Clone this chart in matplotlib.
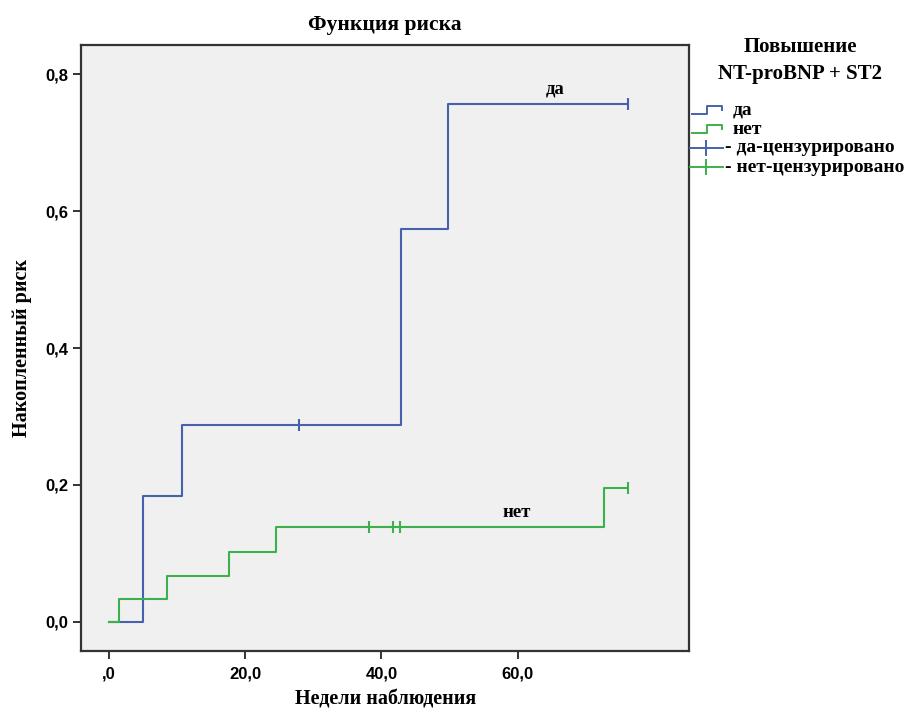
import matplotlib
matplotlib.use("Agg")
import matplotlib.pyplot as plt
from matplotlib.lines import Line2D

# Datos (funcion de riesgo acumulado)
yes_t = [0, 4.95, 10.7, 42.9, 49.7, 76.2]
yes_h = [0, 0.183, 0.288, 0.574, 0.756, 0.756]
yes_cens_t = [27.9, 76.2]
yes_cens_h = [0.288, 0.756]

no_t = [0, 1.5, 8.5, 17.6, 24.5, 72.6, 76.2]
no_h = [0, 0.033, 0.067, 0.102, 0.138, 0.195, 0.195]
no_cens_t = [38.2, 41.7, 42.7, 76.2]
no_cens_h = [0.138, 0.138, 0.138, 0.195]

x_ticks = [0, 20, 40, 60]
x_tick_labels = [",0", "20,0", "40,0", "60,0"]
y_ticks = [0.0, 0.2, 0.4, 0.6, 0.8]
y_tick_labels = ["0,0", "0,2", "0,4", "0,6", "0,8"]

legend_labels = ["да", "нет", "да-цензурировано", "нет-цензурировано"]

BLUE = "#4662ad"
GREEN = "#3cb04c"
SERIF = "Liberation Serif"
SANS = "Liberation Sans"
W, H = 912, 713

fig = plt.figure(figsize=(W / 100, H / 100), dpi=100)
ax = fig.add_axes([0.0888, 0.087, 0.6672, 0.85])
ax.set_facecolor("#f0f0f0")

# curvas escalonadas + marcas de censura
ax.step(yes_t, yes_h, where="post", color=BLUE, lw=1.5)
ax.step(no_t, no_h, where="post", color=GREEN, lw=1.5)
ax.plot(yes_cens_t, yes_cens_h, linestyle="none", marker="|", ms=8, mew=1.5, color=BLUE)
ax.plot(no_cens_t, no_cens_h, linestyle="none", marker="|", ms=8, mew=1.5, color=GREEN)

# etiquetas de las curvas
ax.text(65.5, 0.778, "да", fontsize=13.5, fontweight="bold", family=SERIF, ha="center", va="center")
ax.text(59.9, 0.160, "нет", fontsize=13.5, fontweight="bold", family=SERIF, ha="center", va="center")

ax.set_xlim(-4.1, 85.2)
ax.set_ylim(-0.0428, 0.843)
ax.set_xticks(x_ticks)
ax.set_xticklabels(x_tick_labels)
ax.set_yticks(y_ticks)
ax.set_yticklabels(y_tick_labels)
ax.tick_params(direction="out", length=6, width=1.4, labelsize=12, color="#333333", pad=3)
ax.tick_params(axis="x", pad=5)
for lab in ax.get_xticklabels() + ax.get_yticklabels():
    lab.set_fontweight("bold")
    lab.set_family(SANS)
for s in ax.spines.values():
    s.set_linewidth(1.6)
    s.set_color("#333333")

ax.set_xlabel("Недели наблюдения", fontsize=14.5, fontweight="bold", family=SERIF, labelpad=6)
ax.set_ylabel("Накопленный риск", fontsize=14.5, fontweight="bold", family=SERIF, labelpad=10)
ax.set_title("Функция риска", fontsize=15.5, fontweight="bold", family=SERIF, pad=11)

# leyenda dibujada a mano (coordenadas en pixeles de la figura)
def fx(px):
    return px / W

def fy(py):
    return 1 - py / H

fig.text(fx(800), fy(47), "Повышение", fontsize=15, fontweight="bold", family=SERIF,
         ha="center", va="center")
fig.text(fx(800), fy(74), "NT-proBNP + ST2", fontsize=15, fontweight="bold", family=SERIF,
         ha="center", va="center")

row_y = [110, 129, 148, 167]
colors = [BLUE, GREEN, BLUE, GREEN]
for i, (lab, col, py) in enumerate(zip(legend_labels, colors, row_y)):
    if i < 2:
        xs = [692, 707, 707, 722, 722]
        ys = [py + 4, py + 4, py - 4, py - 4, py]
        fig.add_artist(Line2D([fx(v) for v in xs], [fy(v) for v in ys], color=col, lw=1.4))
        fig.text(fx(733), fy(py), lab, fontsize=14, fontweight="bold", family=SERIF,
                 ha="left", va="center")
    else:
        fig.add_artist(Line2D([fx(690), fx(723)], [fy(py), fy(py)], color=col, lw=1.4))
        fig.add_artist(Line2D([fx(706), fx(706)], [fy(py - 7), fy(py + 7)], color=col, lw=1.4))
        fig.text(fx(725), fy(py), "- " + lab, fontsize=14, fontweight="bold", family=SERIF,
                 ha="left", va="center")

fig.savefig("out.png", dpi=100)
